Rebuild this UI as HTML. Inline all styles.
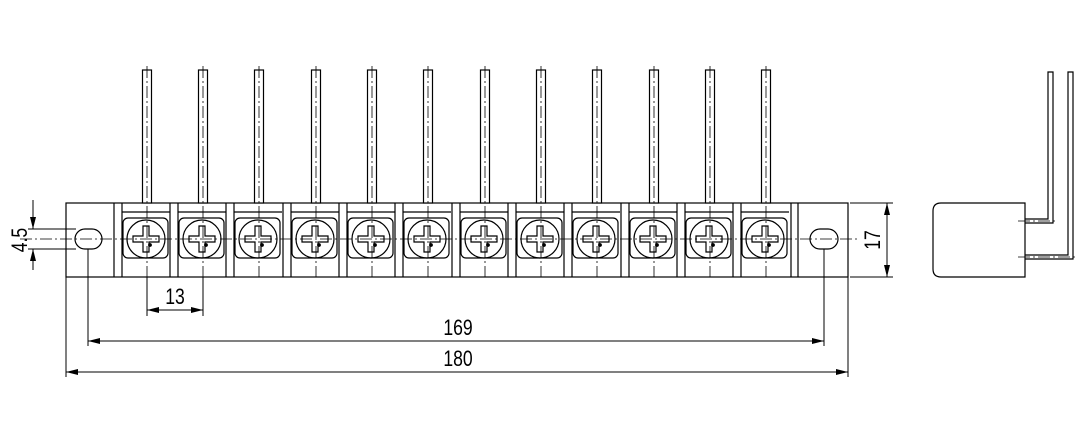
<!DOCTYPE html>
<html><head><meta charset="utf-8"><style>html,body{margin:0;padding:0;background:#fff}svg{display:block}</style></head>
<body>
<svg width="1084" height="428" viewBox="0 0 1084 428" xmlns="http://www.w3.org/2000/svg" font-family="Liberation Sans, sans-serif">
<defs>
<marker id="a" viewBox="0 0 12 6" refX="12" refY="3" markerWidth="12" markerHeight="6" orient="auto-start-reverse" markerUnits="userSpaceOnUse"><path d="M0,0 L12,3 L0,6z" fill="#000"/></marker>
<g id="t" fill="none" stroke="#000" stroke-width="1.2">
  <rect x="-4.5" y="70" width="9" height="133" fill="#fff"/>
  <line x1="-33" y1="203" x2="-33" y2="277"/>
  <line x1="-25" y1="203" x2="-25" y2="277"/>
  <line x1="-25" y1="212" x2="23" y2="212"/>
  <rect x="-24" y="218" width="45" height="40" rx="5"/>
  <circle cx="-1" cy="239" r="19"/>
  <path d="M-4,226 h6 v10 h10 v6 h-10 v10 h-6 v-10 h-10 v-6 h10z"/>
  <circle cx="3" cy="245" r="1.3" fill="#000"/>
  <line x1="0" y1="66" x2="0" y2="277" stroke-width="0.8" stroke-dasharray="12,3,2,3"/>
</g>
</defs>
<g fill="none" stroke="#000" stroke-width="1.2">
<rect x="66" y="203" width="782" height="74"/>
<line x1="791" y1="203" x2="791" y2="277"/>
<line x1="798" y1="203" x2="798" y2="277"/>
<rect x="75" y="229" width="27" height="20" rx="10"/>
<rect x="810" y="229" width="28" height="20" rx="10"/>
<line x1="20" y1="239" x2="860" y2="239" stroke-width="0.8" stroke-dasharray="12,3,2,3"/>
</g>
<use href="#t" x="147"/><use href="#t" x="203"/><use href="#t" x="259"/><use href="#t" x="316"/>
<use href="#t" x="372"/><use href="#t" x="428"/><use href="#t" x="485"/><use href="#t" x="541"/>
<use href="#t" x="597"/><use href="#t" x="654"/><use href="#t" x="710"/><use href="#t" x="766"/>
<g fill="none" stroke="#000" stroke-width="1">
<line x1="28" y1="229" x2="76" y2="229"/><line x1="28" y1="249" x2="76" y2="249"/>
<line x1="33" y1="200" x2="33" y2="229" marker-end="url(#a)"/>
<line x1="33" y1="270" x2="33" y2="249" marker-end="url(#a)"/>
<line x1="850" y1="203" x2="893" y2="203"/><line x1="850" y1="277" x2="893" y2="277"/>
<line x1="887" y1="203" x2="887" y2="277" marker-start="url(#a)" marker-end="url(#a)"/>
<line x1="147" y1="277" x2="147" y2="316"/><line x1="203" y1="277" x2="203" y2="316"/>
<line x1="147" y1="310" x2="203" y2="310" marker-start="url(#a)" marker-end="url(#a)"/>
<line x1="88" y1="249" x2="88" y2="346"/><line x1="824" y1="249" x2="824" y2="346"/>
<line x1="88" y1="341" x2="824" y2="341" marker-start="url(#a)" marker-end="url(#a)"/>
<line x1="66" y1="277" x2="66" y2="377"/><line x1="848" y1="277" x2="848" y2="377"/>
<line x1="66" y1="372" x2="848" y2="372" marker-start="url(#a)" marker-end="url(#a)"/>
<path d="M1025,203 H941 Q933,203 933,211 V269 Q933,277 941,277 H1025 Z" stroke-width="1.2"/>
<path d="M1025,219 H1048 V72 H1053 V223 H1025" stroke-width="1.2"/>
<path d="M1025,255 H1068 V72 H1073 V259 H1025" stroke-width="1.2"/>
<line x1="1018" y1="221" x2="1058" y2="221" stroke-width="0.8" stroke-dasharray="12,3,2,3"/>
<line x1="1018" y1="257" x2="1078" y2="257" stroke-width="0.8" stroke-dasharray="12,3,2,3"/>
</g>
<g font-size="22" fill="#000" font-weight="300">
<text transform="translate(175,304) scale(0.8,1)" text-anchor="middle">13</text>
<text transform="translate(458,335) scale(0.8,1)" text-anchor="middle">169</text>
<text transform="translate(458,366) scale(0.8,1)" text-anchor="middle">180</text>
<text transform="translate(880,240) rotate(-90) scale(0.8,1)" text-anchor="middle">17</text>
<text transform="translate(27,240) rotate(-90) scale(0.8,1)" text-anchor="middle">4.5</text>
</g>
</svg>
</body></html>
